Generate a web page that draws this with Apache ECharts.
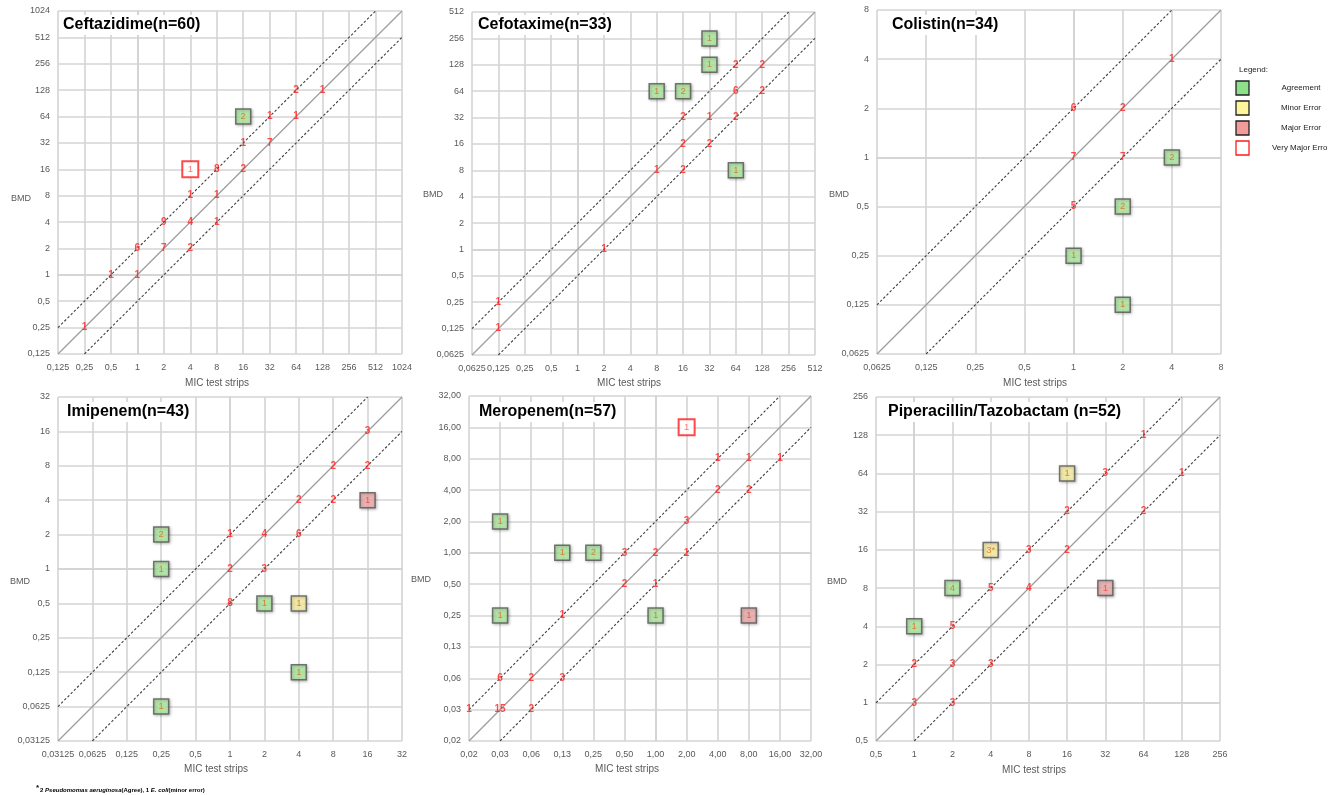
<!DOCTYPE html>
<html><head><meta charset="utf-8">
<script src="https://cdn.jsdelivr.net/npm/echarts@6/dist/echarts.min.js"></script>
<style>html,body{margin:0;padding:0;background:#fff}#c{width:1328px;height:795px}</style>
</head><body><div id="c"></div><script>
// ---------- DATA ----------
// points: [MIC test strip, BMD, count]
const ceftazidimeTicks = ['0,125','0,25','0,5','1','2','4','8','16','32','64','128','256','512','1024'];
const ceftazidimeRange = [0.125, 1024];
const ceftazidimePoints = [[0.25,0.25,1],[0.5,1,1],[1,1,1],[1,2,6],[2,2,7],[2,4,9],[4,4,4],[4,2,2],[4,8,1],[8,8,1],[8,4,1],[8,16,8],[16,16,2],[16,32,1],[32,32,7],[32,64,1],[64,64,1],[64,128,2],[128,128,1]];
const ceftazidimeAgreement = [[16,64,2]];
const ceftazidimeMinor = [];
const ceftazidimeMajor = [];
const ceftazidimeVeryMajor = [[4,16,1]];

const cefotaximeTicks = ['0,0625','0,125','0,25','0,5','1','2','4','8','16','32','64','128','256','512'];
const cefotaximeRange = [0.0625, 512];
const cefotaximePoints = [[0.125,0.25,1],[0.125,0.125,1],[2,1,1],[8,8,1],[16,8,2],[16,16,2],[16,32,2],[32,32,1],[32,16,2],[64,32,2],[64,64,6],[64,128,2],[128,128,2],[128,64,2]];
const cefotaximeAgreement = [[8,64,1],[16,64,2],[32,128,1],[32,256,1],[64,8,1]];
const cefotaximeMinor = [];
const cefotaximeMajor = [];
const cefotaximeVeryMajor = [];

const colistinTicks = ['0,0625','0,125','0,25','0,5','1','2','4','8'];
const colistinRange = [0.0625, 8];
const colistinPoints = [[1,2,6],[1,1,7],[1,0.5,5],[2,2,2],[2,1,7],[4,4,1]];
const colistinAgreement = [[4,1,2],[2,0.5,2],[1,0.25,1],[2,0.125,1]];
const colistinMinor = [];
const colistinMajor = [];
const colistinVeryMajor = [];

const imipenemTicks = ['0,03125','0,0625','0,125','0,25','0,5','1','2','4','8','16','32'];
const imipenemRange = [0.03125, 32];
const imipenemPoints = [[16,16,3],[8,8,2],[16,8,2],[4,4,2],[8,4,2],[1,2,1],[2,2,4],[4,2,6],[1,1,2],[2,1,3],[1,0.5,8]];
const imipenemAgreement = [[0.25,2,2],[0.25,1,1],[2,0.5,1],[4,0.125,1],[0.25,0.0625,1]];
const imipenemMinor = [[4,0.5,1]];
const imipenemMajor = [[16,4,1]];
const imipenemVeryMajor = [];

const meropenemTicks = ['0,02','0,03','0,06','0,13','0,25','0,50','1,00','2,00','4,00','8,00','16,00','32,00'];
const meropenemRange = [0.015625, 32];
const meropenemPoints = [[4,8,1],[8,8,1],[16,8,1],[4,4,2],[8,4,2],[2,2,3],[0.5,1,3],[1,1,2],[2,1,1],[0.5,0.5,2],[1,0.5,1],[0.125,0.25,1],[0.03125,0.0625,6],[0.0625,0.0625,2],[0.125,0.0625,3],[0.015625,0.03125,1],[0.03125,0.03125,15],[0.0625,0.03125,2]];
const meropenemAgreement = [[0.03125,2,1],[0.125,1,1],[0.25,1,2],[0.03125,0.25,1],[1,0.25,1]];
const meropenemMinor = [];
const meropenemMajor = [[8,0.25,1]];
const meropenemVeryMajor = [[2,16,1]];

const piperacillinTicks = ['0,5','1','2','4','8','16','32','64','128','256'];
const piperacillinRange = [0.5, 256];
const piperacillinPoints = [[64,128,1],[32,64,3],[128,64,1],[16,32,2],[64,32,2],[8,16,3],[16,16,2],[4,8,5],[8,8,4],[2,4,5],[1,2,2],[2,2,3],[4,2,3],[1,1,3],[2,1,3]];
const piperacillinAgreement = [[2,8,4],[1,4,1]];
const piperacillinMinor = [[16,64,'1'],[4,16,'3*']];
const piperacillinMajor = [[32,8,1]];
const piperacillinVeryMajor = [];

// ---------- LAYOUT ----------
const panels = [
  {title:'Ceftazidime(n=60)', ticks:ceftazidimeTicks, range:ceftazidimeRange, pts:ceftazidimePoints, ag:ceftazidimeAgreement, mi:ceftazidimeMinor, ma:ceftazidimeMajor, vm:ceftazidimeVeryMajor,
   grid:{left:58, top:11, width:344, height:343}, t:[62,25], bmd:[11,199], mic:[217,383]},
  {title:'Cefotaxime(n=33)', ticks:cefotaximeTicks, range:cefotaximeRange, pts:cefotaximePoints, ag:cefotaximeAgreement, mi:cefotaximeMinor, ma:cefotaximeMajor, vm:cefotaximeVeryMajor,
   grid:{left:472, top:12, width:343, height:343}, t:[477,25], bmd:[423,195], mic:[629,383]},
  {title:'Colistin(n=34)', ticks:colistinTicks, range:colistinRange, pts:colistinPoints, ag:colistinAgreement, mi:colistinMinor, ma:colistinMajor, vm:colistinVeryMajor,
   grid:{left:877, top:10, width:344, height:344}, t:[891,25], bmd:[829,195], mic:[1035,383]},
  {title:'Imipenem(n=43)', ticks:imipenemTicks, range:imipenemRange, pts:imipenemPoints, ag:imipenemAgreement, mi:imipenemMinor, ma:imipenemMajor, vm:imipenemVeryMajor,
   grid:{left:58, top:397, width:344, height:344}, t:[66,412], bmd:[10,582], mic:[216,769]},
  {title:'Meropenem(n=57)', ticks:meropenemTicks, range:meropenemRange, pts:meropenemPoints, ag:meropenemAgreement, mi:meropenemMinor, ma:meropenemMajor, vm:meropenemVeryMajor,
   grid:{left:469, top:396, width:342, height:345}, t:[478,412], bmd:[411,580], mic:[627,769]},
  {title:'Piperacillin/Tazobactam (n=52)', ticks:piperacillinTicks, range:piperacillinRange, pts:piperacillinPoints, ag:piperacillinAgreement, mi:piperacillinMinor, ma:piperacillinMajor, vm:piperacillinVeryMajor,
   grid:{left:876, top:397, width:344, height:344}, t:[887,412], bmd:[827,582], mic:[1034,770]}
];

const FONT = '"Liberation Sans", Arial, sans-serif';
const lg = Math.log2;
const toXY = arr => arr.map(p => [lg(p[0]), lg(p[1]), p[2]]);

const grids = [], xAxes = [], yAxes = [], series = [], graphics = [];

panels.forEach((P, i) => {
  const lo = Math.round(lg(P.range[0])), hi = Math.round(lg(P.range[1]));
  grids.push(Object.assign({containLabel:false}, P.grid));
  const fmt = v => P.ticks[Math.round(v - lo)] || '';
  const axisCommon = {
    gridIndex:i, type:'value', min:lo, max:hi, interval:1,
    axisLine:{show:true, lineStyle:{color:'#d2d2d2', width:1.5}},
    axisTick:{show:false},
    splitLine:{show:true, lineStyle:{color:'#d4d4d4', width:1.6}},
  };
  xAxes.push(Object.assign({}, axisCommon, {axisLabel:{color:'#595959', fontSize:9, fontFamily:FONT, margin:9, formatter:fmt}}));
  yAxes.push(Object.assign({}, axisCommon, {axisLabel:{color:'#595959', fontSize:9, fontFamily:FONT, margin:8, formatter:fmt}}));

  const ref = (data, color, type, w) => ({type:'line', xAxisIndex:i, yAxisIndex:i, data, symbol:'none', silent:true, z:2,
    lineStyle:{color, type, width:w}, animation:false});
  series.push(ref([[lo,lo+1],[hi-1,hi]], '#3f3f3f', [2.5,2], 1.1));
  series.push(ref([[lo,lo],[hi,hi]], '#9e9e9e', 'solid', 1.3));
  series.push(ref([[lo+1,lo],[hi,hi-1]], '#3f3f3f', [2.5,2], 1.1));

  series.push({type:'scatter', xAxisIndex:i, yAxisIndex:i, data:toXY(P.pts), symbolSize:8, z:5, animation:false,
    itemStyle:{color:'rgba(0,0,0,0)'},
    label:{show:true, position:'inside', formatter:p=>p.value[2], color:'#ff2020', fontSize:10, fontWeight:'bold', fontFamily:FONT}});

  const box = (data, fill, border, bw, size, shadow, lc) => ({type:'scatter', xAxisIndex:i, yAxisIndex:i, data:toXY(data), symbol:'rect', symbolSize:size, z:6, animation:false,
    itemStyle:Object.assign({color:fill, borderColor:border, borderWidth:bw}, shadow ? {shadowBlur:3, shadowColor:'rgba(0,0,0,0.35)', shadowOffsetX:1, shadowOffsetY:1} : {}),
    label:{show:true, position:'inside', formatter:p=>p.value[2], color:lc, fontSize:9.5, fontFamily:FONT}});
  if (P.ag.length) series.push(box(P.ag, '#b2eea2', '#555', 1.5, 15, true, '#dd6a1f'));
  if (P.mi.length) series.push(box(P.mi, '#fff5a6', '#555', 1.5, 15, true, '#dd6a1f'));
  if (P.ma.length) series.push(box(P.ma, '#f5b0b0', '#555', 1.5, 15, true, '#e04a3a'));
  if (P.vm.length) series.push(box(P.vm, '#ffffff', '#ff1a1a', 2, 16, false, '#ff5555'));

  graphics.push({type:'text', silent:true, z:10, style:{text:P.title, x:P.t[0], y:P.t[1], font:'bold 16px '+FONT, fill:'#000', verticalAlign:'middle', backgroundColor:'#fff', padding:[2,3,2,1]}});
  graphics.push({type:'text', silent:true, style:{text:'BMD', x:P.bmd[0], y:P.bmd[1], font:'9px '+FONT, fill:'#595959', verticalAlign:'middle'}});
  graphics.push({type:'text', silent:true, style:{text:'MIC test strips', x:P.mic[0], y:P.mic[1], font:'10px '+FONT, fill:'#595959', align:'center', verticalAlign:'middle'}});
});

// Legend
const legendItems = [
  ['Agreement', '#8fe08a', '#222'],
  ['Minor Error', '#fff59a', '#222'],
  ['Major Error', '#f39a9a', '#222'],
  ['Very Major Error', '#ffffff', '#ff1a1a']
];
graphics.push({type:'text', silent:true, style:{text:'Legend:', x:1239, y:70, font:'8px '+FONT, fill:'#222', verticalAlign:'middle'}});
legendItems.forEach((it, k) => {
  const cy = 88 + k*20;
  graphics.push({type:'rect', silent:true, shape:{x:1236, y:cy-7, width:13, height:14}, style:{fill:it[1], stroke:it[2], lineWidth:1.3}});
  graphics.push({type:'text', silent:true, style:{text:it[0], x:1301, y:cy, font:'8px '+FONT, fill:'#222', align:'center', verticalAlign:'middle'}});
});
// Footnote
graphics.push({type:'text', silent:true, style:{x:36, y:790, verticalAlign:'middle',
  text:'{s|*}{b|2 }{i|Pseudomomas aeruginosa}{b|(Agree), 1 }{i|E. coli}{b|(minor error)}',
  rich:{
    s:{font:'bold 8px '+FONT, fill:'#000', padding:[0,1,4,0]},
    b:{font:'bold 6px '+FONT, fill:'#000'},
    i:{font:'italic bold 6px '+FONT, fill:'#000'}
  }}});

const chart = echarts.init(document.getElementById('c'), null, {renderer:'canvas'});
chart.setOption({
  backgroundColor:'#fff', animation:false,
  grid:grids, xAxis:xAxes, yAxis:yAxes, series, graphic:graphics
});
</script></body></html>
